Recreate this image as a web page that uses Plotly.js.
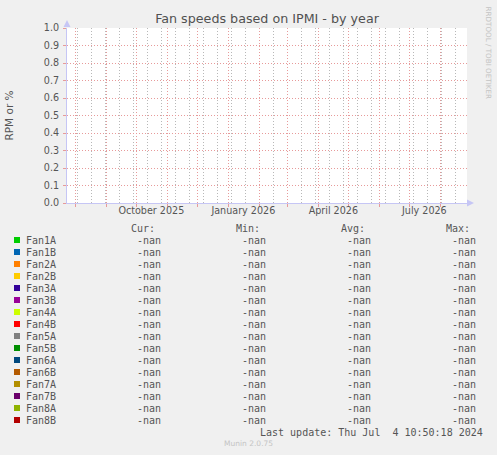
<!DOCTYPE html>
<html>
<head>
<meta charset="utf-8">
<script src="https://cdn.plot.ly/plotly-3.0.1.min.js"></script>
<style>
  html, body { margin: 0; padding: 0; background: #f0f0f0; }
  #chart { width: 497px; height: 455px; }
  #chart path.xgrid, #chart path.ygrid { shape-rendering: crispEdges !important; }
</style>
</head>
<body>
<div id="chart"></div>
<script>
// ---- data ----
const fanNames = ["Fan1A", "Fan1B", "Fan2A", "Fan2B", "Fan3A", "Fan3B", "Fan4A", "Fan4B",
  "Fan5A", "Fan5B", "Fan6A", "Fan6B", "Fan7A", "Fan7B", "Fan8A", "Fan8B"];
const fanColors = ["#00cc00", "#0066b3", "#ff8000", "#ffcc00", "#330099", "#990099", "#ccff00", "#ff0000",
  "#808080", "#008f00", "#00487d", "#b35a00", "#b38f00", "#6b006b", "#8fb300", "#b30000"];
const sampleTimes = ["2025-07-24", "2025-10-01", "2026-01-01", "2026-04-01", "2026-07-01", "2026-08-27"];
// no samples were recorded: every reading is unknown
const fanReading = [null, null, null, null, null, null];
const fanCur = [NaN, NaN, NaN, NaN, NaN, NaN, NaN, NaN, NaN, NaN, NaN, NaN, NaN, NaN, NaN, NaN];
const fanMin = [NaN, NaN, NaN, NaN, NaN, NaN, NaN, NaN, NaN, NaN, NaN, NaN, NaN, NaN, NaN, NaN];
const fanAvg = [NaN, NaN, NaN, NaN, NaN, NaN, NaN, NaN, NaN, NaN, NaN, NaN, NaN, NaN, NaN, NaN];
const fanMax = [NaN, NaN, NaN, NaN, NaN, NaN, NaN, NaN, NaN, NaN, NaN, NaN, NaN, NaN, NaN, NaN];
const yTicks = [0, 0.1, 0.2, 0.3, 0.4, 0.5, 0.6, 0.7, 0.8, 0.9, 1.0];
const monthStarts = ["2025-08-01", "2025-09-01", "2025-10-01", "2025-11-01", "2025-12-01", "2026-01-01",
  "2026-02-01", "2026-03-01", "2026-04-01", "2026-05-01", "2026-06-01", "2026-07-01", "2026-08-01"];
const labelDates = ["2025-10-16", "2026-01-16", "2026-04-16", "2026-07-16"];
const labelText = ["October 2025", "January 2026", "April 2026", "July 2026"];
const timeRange = ["2025-07-23 16:00", "2026-08-27 16:00"];
const lastUpdate = "Last update: Thu Jul \u00a04 10:50:18 2024";

// ---- layout helpers (pixel -> paper) ----
const L = 67, T = 28, W = 400, H = 175;
const px = x => (x - L) / W;
const py = y => (T + H - y) / H;

const GREY = "#555555";
const MONO = "DejaVu Sans Mono";
const SANS = "DejaVu Sans";
const RED_GRID = "#e79a9a";
const AXIS_LINE = "#c6c6f5";
const DOTS = "1px,2px";

const fmt = v => (isNaN(v) ? "-nan" : v.toFixed(2));

const traces = fanNames.map((name, i) => ({
  x: sampleTimes,
  y: fanReading,
  name: name,
  type: "scatter",
  mode: "lines",
  line: { color: fanColors[i], width: 1 },
  xaxis: "x",
  yaxis: "y",
  showlegend: false,
}));

const annotations = [];
const shapes = [];

function text(x, y, s, opts) {
  annotations.push(Object.assign({
    xref: "paper", yref: "paper", x: px(x), y: py(y), text: s,
    showarrow: false, yanchor: "middle",
    font: { family: MONO, size: 10, color: GREY },
  }, opts));
}

// column headers
const colRight = [161, 266, 371, 476];
const headers = ["Cur:", "Min:", "Avg:", "Max:"];
headers.forEach((h, c) => text(colRight[c] - 6 + 2, 228, h, { xanchor: "right" }));

// legend rows
const stats = [fanCur, fanMin, fanAvg, fanMax];
fanNames.forEach((name, i) => {
  const y = 240 + i * 12;
  shapes.push({
    type: "rect", xref: "paper", yref: "paper",
    x0: px(14), x1: px(20), y0: py(y + 3), y1: py(y - 3),
    fillcolor: fanColors[i], line: { width: 0 },
  });
  text(24.3, y, name, { xanchor: "left" });
  stats.forEach((col, c) => text(colRight[c] + 2, y, fmt(col[i]), { xanchor: "right" }));
});

text(485.3, 432, lastUpdate, { xanchor: "right" });
text(248, 443.5, "Munin 2.0.75", { xanchor: "center", font: { family: SANS, size: 7.5, color: "#c4c4c4" } });
text(488.5, 53, "RRDTOOL / TOBI OETIKER", {
  xanchor: "center", textangle: 90,
  font: { family: SANS, size: 7.2, color: "#c4c4c4" },
});

// axis arrows
shapes.push({
  type: "path", xref: "paper", yref: "paper",
  path: `M ${px(63.5)} ${py(27)} L ${px(70.5)} ${py(27)} L ${px(67)} ${py(20)} Z`,
  fillcolor: AXIS_LINE, line: { width: 0 },
});
shapes.push({
  type: "path", xref: "paper", yref: "paper",
  path: `M ${px(467)} ${py(199.5)} L ${px(467)} ${py(206.5)} L ${px(474)} ${py(203)} Z`,
  fillcolor: AXIS_LINE, line: { width: 0 },
});

const layout = {
  width: 497,
  height: 455,
  paper_bgcolor: "#f0f0f0",
  plot_bgcolor: "#ffffff",
  margin: { l: L, r: 497 - L - W, t: T, b: 455 - T - H, pad: 0 },
  title: {
    text: "Fan speeds based on IPMI - by year",
    font: { family: SANS, size: 12.7, color: "#505050" },
    x: 0.5, xanchor: "center", xref: "paper",
    y: 1 - 19 / 455, yanchor: "middle", yref: "container",
  },
  xaxis: {
    type: "date",
    range: timeRange,
    tickmode: "array",
    tickvals: monthStarts,
    ticktext: monthStarts.map(() => ""),
    ticks: "outside",
    ticklen: 3,
    tickcolor: RED_GRID,
    showgrid: true,
    gridcolor: RED_GRID,
    griddash: DOTS,
    gridwidth: 1,
    minor: {
      tick0: "2025-08-03",
      dtick: 14 * 86400000,
      showgrid: true,
      gridcolor: "#b8b8b8",
      griddash: DOTS,
      gridwidth: 1,
      ticks: "",
    },
    showline: true,
    linecolor: AXIS_LINE,
    linewidth: 1,
    zeroline: false,
    fixedrange: true,
  },
  xaxis2: {
    type: "date",
    overlaying: "x",
    anchor: "y",
    side: "bottom",
    range: timeRange,
    tickmode: "array",
    tickvals: labelDates,
    ticktext: labelText,
    ticks: "",
    showgrid: false,
    showline: false,
    zeroline: false,
    tickfont: { family: SANS, size: 9.6, color: GREY },
  },
  yaxis: {
    range: [0, 1],
    tickmode: "array",
    tickvals: yTicks,
    ticktext: yTicks.map(v => v.toFixed(1)),
    ticks: "outside",
    ticklen: 3,
    tickcolor: RED_GRID,
    ticklabelstandoff: 2,
    showgrid: true,
    gridcolor: RED_GRID,
    griddash: DOTS,
    gridwidth: 1,
    showline: true,
    linecolor: AXIS_LINE,
    linewidth: 1,
    zeroline: false,
    tickfont: { family: SANS, size: 9.6, color: GREY },
    title: {
      text: "RPM or %",
      font: { family: SANS, size: 10.5, color: GREY },
      standoff: 28,
    },
  },
  annotations: annotations,
  shapes: shapes,
  showlegend: false,
};

// a hidden carrier so xaxis2 gets drawn
traces.push({
  x: sampleTimes, y: fanReading, type: "scatter", mode: "lines",
  xaxis: "x2", yaxis: "y", showlegend: false, hoverinfo: "skip",
});

Plotly.newPlot("chart", traces, layout, { staticPlot: true, displayModeBar: false });
</script>
</body>
</html>
